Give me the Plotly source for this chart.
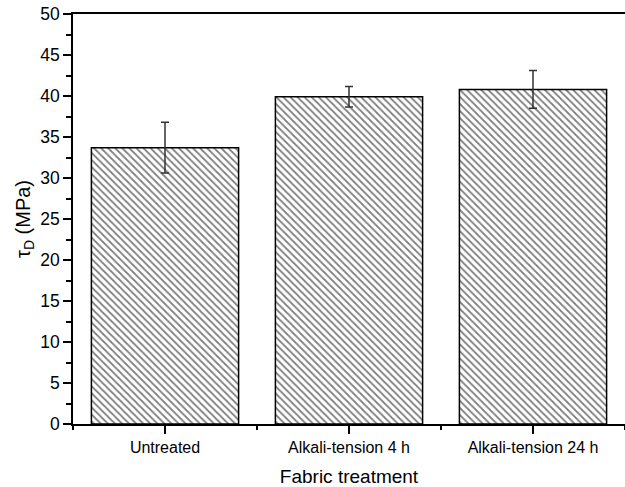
import plotly.graph_objects as go

categories = ["Untreated", "Alkali-tension 4 h", "Alkali-tension 24 h"]
tau_d = [33.7, 39.9, 40.8]
err = [3.1, 1.25, 2.3]
y_ticks = [0, 5, 10, 15, 20, 25, 30, 35, 40, 45, 50]

font = "Liberation Sans"

fig = go.Figure()
fig.add_trace(go.Bar(
    x=list(range(len(categories))),
    y=tau_d,
    width=0.8,
    marker=dict(
        color="white",
        line=dict(color="black", width=1.5),
        pattern=dict(shape="\\", size=5, solidity=0.35, fgcolor="black", bgcolor="white"),
    ),
    error_y=dict(type="data", array=err, visible=True, color="#333333", thickness=1.5, width=4),
    showlegend=False,
))

fig.update_layout(
    width=625, height=487,
    margin=dict(l=73, r=0, t=14, b=63),
    plot_bgcolor="white", paper_bgcolor="white",
    font=dict(family=font, color="black", size=16),
    xaxis=dict(
        range=[-0.5, 2.5],
        tickvals=list(range(len(categories))),
        ticktext=categories,
        ticks="outside", ticklen=8, tickwidth=1.5, tickcolor="black",
        minor=dict(tickvals=[-0.5, 0.5, 1.5, 2.5], ticks="outside", ticklen=4, tickwidth=1.5, tickcolor="black"),
        showline=True, linecolor="black", linewidth=1.5, mirror=True,
        showgrid=False, zeroline=False,
        tickfont=dict(size=16, family=font),
        title=dict(text="Fabric treatment", font=dict(size=19, family=font), standoff=15),
    ),
    yaxis=dict(
        range=[0, 50],
        tickvals=y_ticks,
        ticks="outside", ticklen=8, tickwidth=1.5, tickcolor="black",
        minor=dict(dtick=2.5, ticks="outside", ticklen=5, tickwidth=1.5, tickcolor="black"),
        showline=True, linecolor="black", linewidth=1.5, mirror=False,
        showgrid=False, zeroline=False,
        tickfont=dict(size=17.5, family=font),
        title=dict(text="τ<sub>D</sub> (MPa)", font=dict(size=20, family=font), standoff=4),
    ),
)

fig.write_html(
    "out.html",
    config={"displayModeBar": False},
    post_script="document.body.style.margin='0';document.body.style.overflow='hidden';",
)
